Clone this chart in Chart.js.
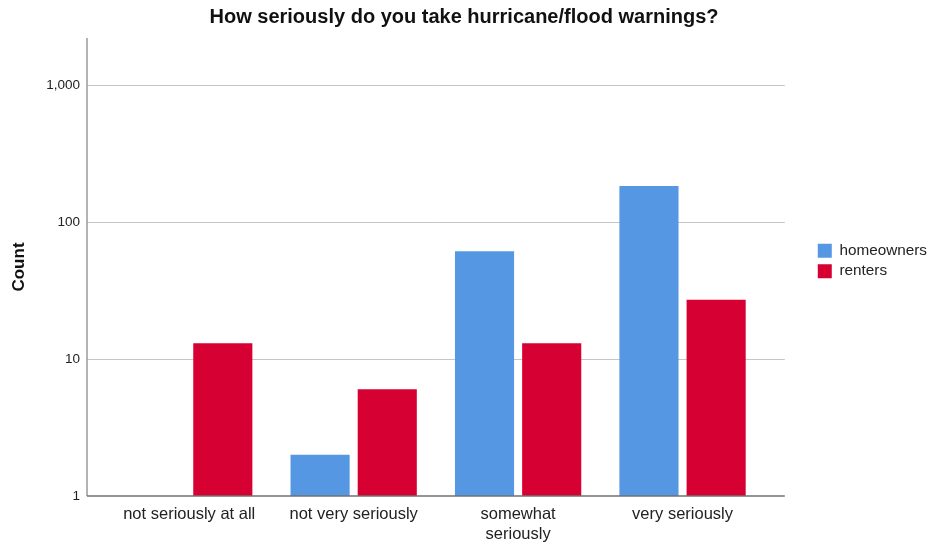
<!DOCTYPE html>
<html>
<head>
<meta charset="utf-8">
<script src="https://cdn.jsdelivr.net/npm/chart.js@4"></script>
<style>
  body { margin: 0; background: #fff; }
  #wrap { width: 930px; height: 548px; }
</style>
</head>
<body>
<div id="wrap"><canvas id="chart" width="930" height="548"></canvas></div>
<script>
const categories = ['not seriously at all', 'not very seriously', ['somewhat', 'seriously'], 'very seriously'];
const homeowners = [null, 2, 61, 183];
const renters = [13, 6, 13, 27];
const yTicks = [1, 10, 100, 1000];

const FONT = "'Liberation Sans', Arial, sans-serif";

// gridlines and axis lines run 20px past the bar area on both sides
const axisLines = {
    id: 'axisLines',
    beforeDatasetsDraw(chart) {
        const { ctx, chartArea: a, scales: { y } } = chart;
        const left = a.left - 20, right = a.right + 20;
        ctx.save();
        ctx.lineWidth = 1;
        ctx.strokeStyle = '#c6c6c6';
        yTicks.slice(1).forEach(v => {
            const py = Math.round(y.getPixelForValue(v)) + 0.5;
            ctx.beginPath();
            ctx.moveTo(left, py);
            ctx.lineTo(right, py);
            ctx.stroke();
        });
        ctx.strokeStyle = '#9a9a9a';
        ctx.lineWidth = 1.5;
        ctx.beginPath();
        ctx.moveTo(left, a.top);
        ctx.lineTo(left, a.bottom);
        ctx.stroke();
        ctx.restore();
    },
    afterDatasetsDraw(chart) {
        const { ctx, chartArea: a } = chart;
        ctx.save();
        ctx.strokeStyle = '#707070';
        ctx.lineWidth = 1.5;
        ctx.beginPath();
        ctx.moveTo(a.left - 20, a.bottom);
        ctx.lineTo(a.right + 20, a.bottom);
        ctx.stroke();
        ctx.restore();
    }
};

// leave a gap between plot and legend
const legendGap = {
    id: 'legendGap',
    afterInit(chart) {
        const lg = chart.legend;
        const fit = lg.fit;
        lg.fit = function () {
            fit.call(this);
            this.width += 39;
        };
    },
    afterLayout(chart) {
        chart.legend.left += 48;
        chart.legend.top -= 13;
        chart.legend.bottom -= 13;
    }
};

const ctx = document.getElementById('chart').getContext('2d');
const chart = new Chart(ctx, {
    type: 'bar',
    data: {
        labels: categories,
        datasets: [
            {
                label: 'homeowners',
                data: homeowners,
                backgroundColor: '#5597e3',
                borderWidth: 0,
                categoryPercentage: 0.817,
                barPercentage: 0.88
            },
            {
                label: 'renters',
                data: renters,
                backgroundColor: '#d60032',
                borderWidth: 0,
                categoryPercentage: 0.817,
                barPercentage: 0.88
            }
        ]
    },
    options: {
        responsive: false,
        animation: false,
        layout: { padding: { left: 0, right: 2, top: 0, bottom: 0 } },
        plugins: {
            title: {
                display: true,
                text: 'How seriously do you take hurricane/flood warnings?',
                color: '#111',
                font: { family: FONT, size: 20, weight: 'bold' },
                padding: { top: 5, bottom: 9 }
            },
            legend: {
                position: 'right',
                labels: {
                    boxWidth: 14,
                    boxHeight: 14,
                    padding: 5,
                    color: '#222',
                    font: { family: FONT, size: 15.3 }
                }
            },
            tooltip: { enabled: false }
        },
        scales: {
            x: {
                offset: true,
                grid: { display: false, drawTicks: false },
                border: { display: false },
                ticks: {
                    color: '#222',
                    padding: 9,
                    maxRotation: 0,
                    autoSkip: false,
                    font: { family: FONT, size: 16.5 }
                },
                afterFit(scale) { scale.height = 52; }
            },
            y: {
                type: 'logarithmic',
                min: 1,
                max: 2200,
                grid: { display: false, drawTicks: false },
                border: { display: false },
                afterBuildTicks(scale) {
                    scale.ticks = yTicks.map(v => ({ value: v }));
                },
                ticks: {
                    color: '#222',
                    padding: 27,
                    font: { family: FONT, size: 13.5 },
                    callback: v => v.toLocaleString('en-US')
                },
                title: {
                    display: true,
                    text: 'Count',
                    color: '#111',
                    font: { family: FONT, size: 17, weight: 'bold' },
                    padding: { top: 9, bottom: 0 }
                },
                afterFit(scale) { scale.width = 107; }
            }
        }
    },
    plugins: [axisLines, legendGap]
});
</script>
</body>
</html>
